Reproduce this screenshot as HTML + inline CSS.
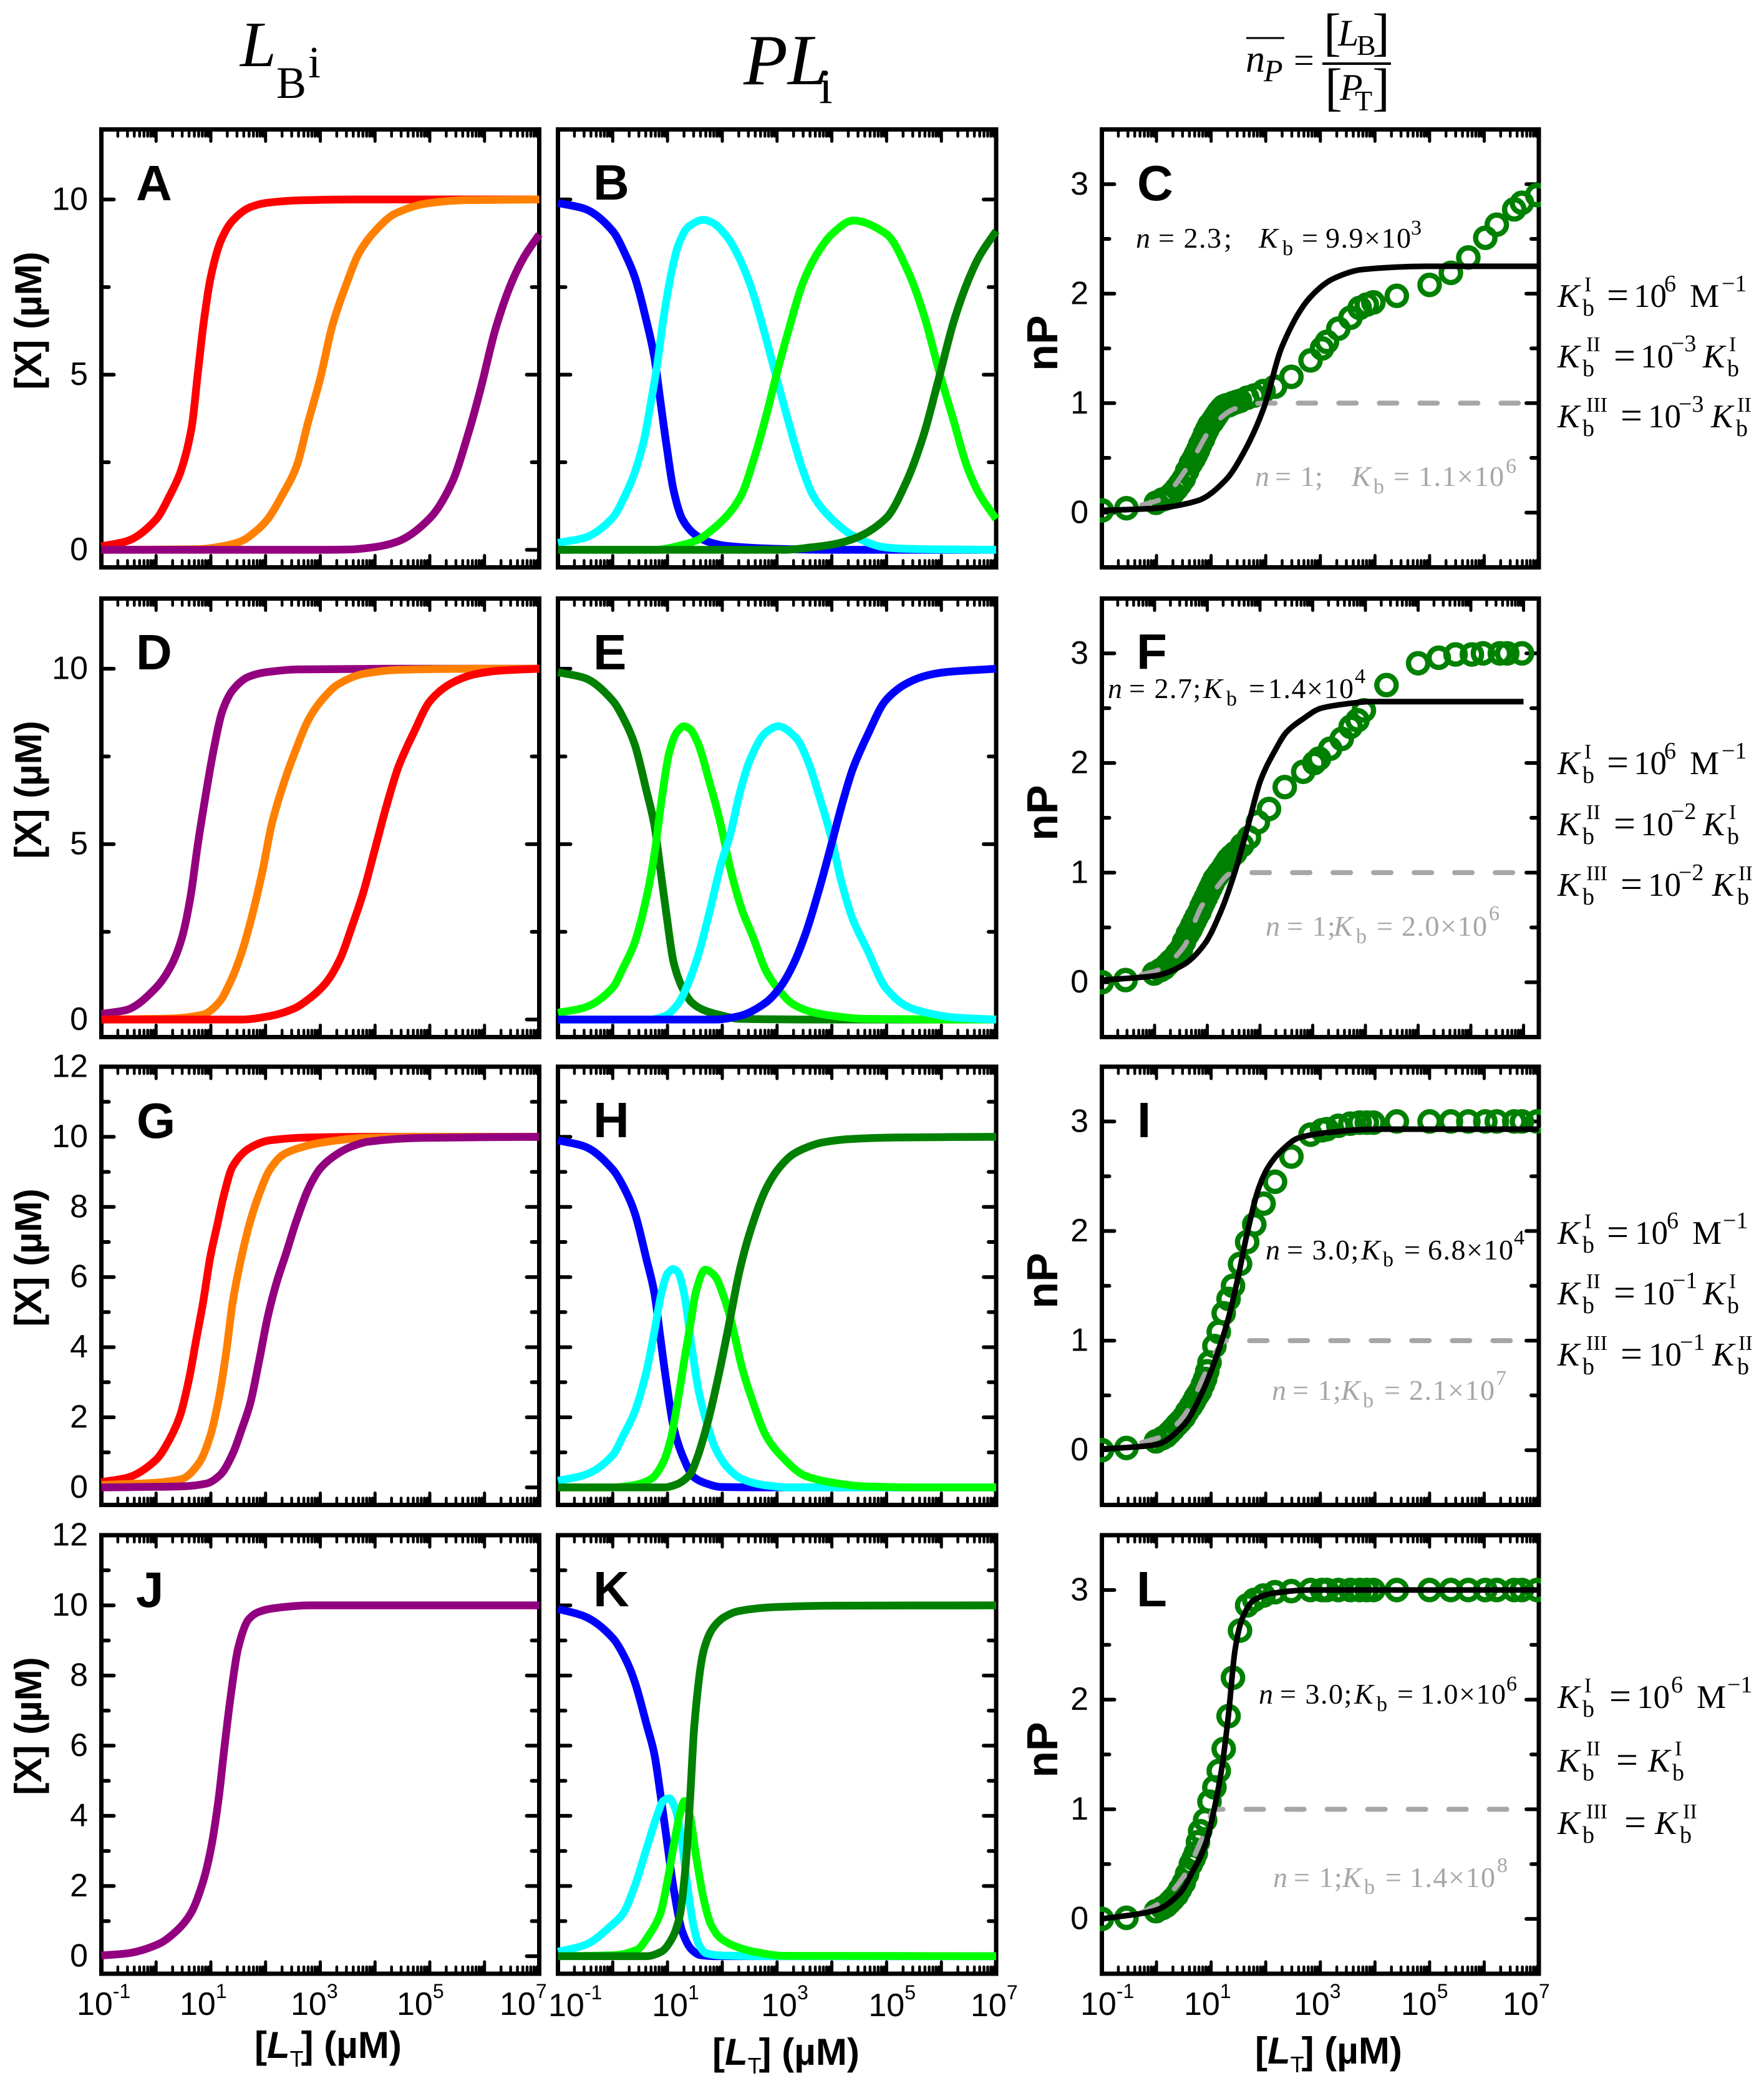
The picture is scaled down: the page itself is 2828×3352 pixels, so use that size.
<!DOCTYPE html>
<html lang="en">
<head>
<meta charset="utf-8">
<title>Binding curves</title>
<style>
html,body{margin:0;padding:0;background:#fff;}
svg{display:block;position:absolute;left:0;top:0;}
text{font-family:"Liberation Sans",sans-serif;fill:#000;}
.tick{font-size:52px;}
.sup{font-size:32px;}
.ytitle{font-size:60px;font-weight:bold;}
.nptitle{font-size:70px;font-weight:bold;}
.xtitle{font-size:60px;font-weight:bold;}
.xtitle .i{font-style:italic;}
.xtitle .s{font-size:36px;font-weight:normal;}
.letter{font-size:80px;font-weight:bold;}
.serif,.serif tspan{font-family:"Liberation Serif",serif;}
.i{font-style:italic;}
.ann{font-size:46px;font-family:"Liberation Serif",serif;letter-spacing:1.5px;}
.ann tspan{font-family:"Liberation Serif",serif;}
.ann .a{font-size:34px;}
.gray,.gray tspan{fill:#a6a6a6;}
.eq{font-size:53px;font-family:"Liberation Serif",serif;}
.eq tspan{font-family:"Liberation Serif",serif;}
.eq .a{font-size:38px;}
.eq .r{font-size:34px;}
.eq .e{font-size:62px;}
</style>
</head>
<body>
<svg id="chart" xmlns="http://www.w3.org/2000/svg" width="2828" height="3352" viewBox="0 0 2828 3352">
<rect x="0" y="0" width="2828" height="3352" fill="#fff"/>
<g id="plots"></g>

<!-- column headers -->
<text class="serif"><tspan x="385" y="106" class="i" font-size="104">L</tspan><tspan x="443" y="157" font-size="72">B</tspan><tspan x="494" y="124" font-size="72">i</tspan></text>
<text class="serif"><tspan x="1192" y="135" class="i" font-size="116">PL</tspan><tspan x="1313" y="165" font-size="78">i</tspan></text>
<g>
<line x1="1998" y1="61" x2="2059" y2="61" stroke="#000" stroke-width="3"/>
<text class="serif"><tspan x="1997" y="115" class="i" font-size="62">n</tspan><tspan x="2026" y="130" class="i" font-size="50">P</tspan><tspan x="2074" y="116" font-size="58">=</tspan></text>
<line x1="2120" y1="102" x2="2230" y2="102" stroke="#000" stroke-width="4"/>
<text class="serif"><tspan x="2122" y="80" font-size="84">[</tspan><tspan x="2145" y="73" class="i" font-size="60">L</tspan><tspan x="2175" y="88" font-size="46">B</tspan><tspan x="2200" y="80" font-size="84">]</tspan></text>
<text class="serif"><tspan x="2124" y="168" font-size="84">[</tspan><tspan x="2148" y="160" class="i" font-size="60">P</tspan><tspan x="2172" y="177" font-size="46">T</tspan><tspan x="2200" y="168" font-size="84">]</tspan></text>
</g>

<!-- y axis titles -->
<text class="ytitle" text-anchor="middle" transform="translate(66,514) rotate(-90)">[X] (µM)</text>
<text class="ytitle" text-anchor="middle" transform="translate(66,1266) rotate(-90)">[X] (µM)</text>
<text class="ytitle" text-anchor="middle" transform="translate(66,2016) rotate(-90)">[X] (µM)</text>
<text class="ytitle" text-anchor="middle" transform="translate(66,2767) rotate(-90)">[X] (µM)</text>
<text class="nptitle" text-anchor="middle" transform="translate(1695,550) rotate(-90)">nP</text>
<text class="nptitle" text-anchor="middle" transform="translate(1695,1303) rotate(-90)">nP</text>
<text class="nptitle" text-anchor="middle" transform="translate(1695,2053) rotate(-90)">nP</text>
<text class="nptitle" text-anchor="middle" transform="translate(1695,2805) rotate(-90)">nP</text>

<!-- x axis titles -->
<text class="xtitle"><tspan x="408" y="3299">[</tspan><tspan class="i">L</tspan><tspan class="s" dy="14">T</tspan><tspan dy="-14" dx="-4">] (µM)</tspan></text>
<text class="xtitle"><tspan x="1142" y="3310">[</tspan><tspan class="i">L</tspan><tspan class="s" dy="14">T</tspan><tspan dy="-14" dx="-4">] (µM)</tspan></text>
<text class="xtitle"><tspan x="2012" y="3308">[</tspan><tspan class="i">L</tspan><tspan class="s" dy="14">T</tspan><tspan dy="-14" dx="-4">] (µM)</tspan></text>

<!-- panel letters -->
<text class="letter" x="218" y="321">A</text>
<text class="letter" x="951" y="320">B</text>
<text class="letter" x="1823" y="321">C</text>
<text class="letter" x="218" y="1073">D</text>
<text class="letter" x="951" y="1073">E</text>
<text class="letter" x="1822" y="1072">F</text>
<text class="letter" x="219" y="1824">G</text>
<text class="letter" x="951" y="1823">H</text>
<text class="letter" x="1823" y="1823">I</text>
<text class="letter" x="218" y="2576">J</text>
<text class="letter" x="951" y="2575">K</text>
<text class="letter" x="1822" y="2575">L</text>

<!-- fit annotations -->
<text class="ann"><tspan x="1821" y="397" class="i">n</tspan><tspan x="1857">= 2.3</tspan><tspan x="1962">;</tspan><tspan x="2018" class="i">K</tspan><tspan x="2056" y="409" class="a">b</tspan><tspan x="2087" y="397">=</tspan><tspan x="2125">9.9×10</tspan><tspan x="2262" y="376" class="a">3</tspan></text>
<text class="ann gray"><tspan x="2012" y="779" class="i">n</tspan><tspan x="2044">= 1</tspan><tspan x="2108">;</tspan><tspan x="2167" class="i">K</tspan><tspan x="2202" y="791" class="a">b</tspan><tspan x="2234" y="779">=</tspan><tspan x="2274">1.1×10</tspan><tspan x="2414" y="758" class="a">6</tspan></text>
<text class="ann"><tspan x="1776" y="1119" class="i">n</tspan><tspan x="1810">= 2.7;</tspan><tspan x="1929" class="i">K</tspan><tspan x="1966" y="1131" class="a">b</tspan><tspan x="2002" y="1119">=</tspan><tspan x="2033">1.4×10</tspan><tspan x="2172" y="1095" class="a">4</tspan></text>
<text class="ann gray"><tspan x="2029" y="1500" class="i">n</tspan><tspan x="2063">= 1;</tspan><tspan x="2138" class="i">K</tspan><tspan x="2174" y="1512" class="a">b</tspan><tspan x="2207" y="1500">=</tspan><tspan x="2247">2.0×10</tspan><tspan x="2387" y="1475" class="a">6</tspan></text>
<text class="ann"><tspan x="2029" y="2019" class="i">n</tspan><tspan x="2063">= 3.0;</tspan><tspan x="2182" class="i">K</tspan><tspan x="2217" y="2030" class="a">b</tspan><tspan x="2251" y="2019">=</tspan><tspan x="2289">6.8×10</tspan><tspan x="2427" y="1995" class="a">4</tspan></text>
<text class="ann gray"><tspan x="2039" y="2244" class="i">n</tspan><tspan x="2072">= 1;</tspan><tspan x="2150" class="i">K</tspan><tspan x="2185" y="2256" class="a">b</tspan><tspan x="2219" y="2244">=</tspan><tspan x="2259">2.1×10</tspan><tspan x="2398" y="2220" class="a">7</tspan></text>
<text class="ann"><tspan x="2018" y="2731" class="i">n</tspan><tspan x="2052">= 3.0;</tspan><tspan x="2171" class="i">K</tspan><tspan x="2207" y="2743" class="a">b</tspan><tspan x="2240" y="2731">=</tspan><tspan x="2277">1.0×10</tspan><tspan x="2415" y="2710" class="a">6</tspan></text>
<text class="ann gray"><tspan x="2041" y="3025" class="i">n</tspan><tspan x="2074">= 1;</tspan><tspan x="2152" class="i">K</tspan><tspan x="2187" y="3036" class="a">b</tspan><tspan x="2221" y="3025">=</tspan><tspan x="2260">1.4×10</tspan><tspan x="2400" y="3001" class="a">8</tspan></text>

<!-- row 1 constants -->
<text class="eq"><tspan x="2497" y="492" class="i">K</tspan><tspan x="2537" y="506" class="a">b</tspan><tspan x="2540" y="467" class="r">I</tspan><tspan x="2576" y="494" class="e">=</tspan><tspan x="2619" y="492">10</tspan><tspan x="2668" y="467" class="a">6</tspan><tspan x="2709" y="492">M</tspan><tspan x="2760" y="467" class="a">−1</tspan></text>
<text class="eq"><tspan x="2497" y="589" class="i">K</tspan><tspan x="2537" y="603" class="a">b</tspan><tspan x="2543" y="563" class="r">II</tspan><tspan x="2587" y="591" class="e">=</tspan><tspan x="2630" y="589">10</tspan><tspan x="2679" y="563" class="a">−3</tspan><tspan x="2730" y="589" class="i">K</tspan><tspan x="2769" y="603" class="a">b</tspan><tspan x="2772" y="563" class="r">I</tspan></text>
<text class="eq"><tspan x="2497" y="685" class="i">K</tspan><tspan x="2537" y="699" class="a">b</tspan><tspan x="2543" y="660" class="r">III</tspan><tspan x="2598" y="687" class="e">=</tspan><tspan x="2642" y="685">10</tspan><tspan x="2691" y="660" class="a">−3</tspan><tspan x="2743" y="685" class="i">K</tspan><tspan x="2783" y="699" class="a">b</tspan><tspan x="2785" y="660" class="r">II</tspan></text>
<!-- row 2 constants -->
<text class="eq"><tspan x="2497" y="1241" class="i">K</tspan><tspan x="2537" y="1255" class="a">b</tspan><tspan x="2540" y="1216" class="r">I</tspan><tspan x="2576" y="1243" class="e">=</tspan><tspan x="2619" y="1241">10</tspan><tspan x="2668" y="1216" class="a">6</tspan><tspan x="2709" y="1241">M</tspan><tspan x="2760" y="1216" class="a">−1</tspan></text>
<text class="eq"><tspan x="2497" y="1339" class="i">K</tspan><tspan x="2537" y="1353" class="a">b</tspan><tspan x="2543" y="1313" class="r">II</tspan><tspan x="2587" y="1341" class="e">=</tspan><tspan x="2630" y="1339">10</tspan><tspan x="2679" y="1313" class="a">−2</tspan><tspan x="2730" y="1339" class="i">K</tspan><tspan x="2769" y="1353" class="a">b</tspan><tspan x="2772" y="1313" class="r">I</tspan></text>
<text class="eq"><tspan x="2497" y="1436" class="i">K</tspan><tspan x="2537" y="1450" class="a">b</tspan><tspan x="2543" y="1411" class="r">III</tspan><tspan x="2598" y="1438" class="e">=</tspan><tspan x="2642" y="1436">10</tspan><tspan x="2691" y="1411" class="a">−2</tspan><tspan x="2745" y="1436" class="i">K</tspan><tspan x="2785" y="1450" class="a">b</tspan><tspan x="2787" y="1411" class="r">II</tspan></text>
<!-- row 3 constants -->
<text class="eq"><tspan x="2497" y="1994" class="i">K</tspan><tspan x="2537" y="2008" class="a">b</tspan><tspan x="2540" y="1969" class="r">I</tspan><tspan x="2576" y="1996" class="e">=</tspan><tspan x="2621" y="1994">10</tspan><tspan x="2672" y="1969" class="a">6</tspan><tspan x="2713" y="1994">M</tspan><tspan x="2762" y="1969" class="a">−1</tspan></text>
<text class="eq"><tspan x="2497" y="2091" class="i">K</tspan><tspan x="2537" y="2105" class="a">b</tspan><tspan x="2543" y="2065" class="r">II</tspan><tspan x="2587" y="2093" class="e">=</tspan><tspan x="2632" y="2091">10</tspan><tspan x="2681" y="2065" class="a">−1</tspan><tspan x="2730" y="2091" class="i">K</tspan><tspan x="2769" y="2105" class="a">b</tspan><tspan x="2772" y="2065" class="r">I</tspan></text>
<text class="eq"><tspan x="2497" y="2189" class="i">K</tspan><tspan x="2537" y="2203" class="a">b</tspan><tspan x="2543" y="2164" class="r">III</tspan><tspan x="2598" y="2191" class="e">=</tspan><tspan x="2643" y="2189">10</tspan><tspan x="2693" y="2164" class="a">−1</tspan><tspan x="2745" y="2189" class="i">K</tspan><tspan x="2785" y="2203" class="a">b</tspan><tspan x="2787" y="2164" class="r">II</tspan></text>
<!-- row 4 constants -->
<text class="eq"><tspan x="2497" y="2738" class="i">K</tspan><tspan x="2537" y="2752" class="a">b</tspan><tspan x="2540" y="2713" class="r">I</tspan><tspan x="2580" y="2740" class="e">=</tspan><tspan x="2624" y="2738">10</tspan><tspan x="2679" y="2713" class="a">6</tspan><tspan x="2720" y="2738">M</tspan><tspan x="2769" y="2713" class="a">−1</tspan></text>
<text class="eq"><tspan x="2497" y="2840" class="i">K</tspan><tspan x="2537" y="2854" class="a">b</tspan><tspan x="2543" y="2814" class="r">II</tspan><tspan x="2591" y="2842" class="e">=</tspan><tspan x="2642" y="2840" class="i">K</tspan><tspan x="2681" y="2854" class="a">b</tspan><tspan x="2685" y="2814" class="r">I</tspan></text>
<text class="eq"><tspan x="2497" y="2940" class="i">K</tspan><tspan x="2537" y="2954" class="a">b</tspan><tspan x="2543" y="2915" class="r">III</tspan><tspan x="2604" y="2942" class="e">=</tspan><tspan x="2653" y="2940" class="i">K</tspan><tspan x="2693" y="2954" class="a">b</tspan><tspan x="2698" y="2915" class="r">II</tspan></text>
</svg>

<script>
// ---------- tick labels ----------
const xTickExponents = ['-1', '1', '3', '5', '7'];
const yTicksSparse = [0, 5, 10];
const yTicksDense = [0, 2, 4, 6, 8, 10, 12];
const yTicksNP = [0, 1, 2, 3];

// ---------- shared x values of the data markers (log10 of [LT]) ----------
const markerLogL = [-1,-.55,-.01,.11,.24,.37,.5,.63,.72,.8,.89,.97,1.06,1.14,1.23,1.32,1.4,1.53,1.66,1.79,1.96,2.17,2.47,2.82,3.03,3.12,3.33,3.55,3.72,3.85,3.97,4.4,5,5.39,5.71,6.02,6.23,6.55,6.69,6.97,.18,.3,.43,.56,.68,.76,.85,.93,1.02,1.1,1.19,1.28,1.36,1.46];

// ---------- panel A ----------
const A_red_logL = [-1,-.53,0,.25,.44,.65,.76,.87,1,1.19,1.4,1.72,2,2.7,3.7,7];
const A_red_X = [.1,.25,.87,1.55,2.2,3.5,5,6.5,7.8,8.85,9.4,9.78,9.9,9.98,10,10];
const A_orange_logL = [-1,.8,1.2,1.53,1.85,2.05,2.3,2.57,2.77,3,3.22,3.48,3.7,4,4.37,5,5.65,7];
const A_orange_X = [0,.02,.1,.23,.57,.9,1.55,2.4,3.6,4.9,6.4,7.6,8.45,9.1,9.6,9.9,9.98,10];
const A_purple_logL = [-1,3,3.53,4,4.4,5,5.4,5.7,5.93,6.2,6.5,6.72,7];
const A_purple_X = [0,0,.01,.08,.23,.9,1.9,3.3,4.6,6.3,7.65,8.35,9];

// ---------- panel B ----------
const B_blue_logL = [-1,-.52,0,.24,.4,.62,.76,.87,.98,1.11,1.27,1.49,1.71,2.09,2.96,4,7];
const B_blue_X = [9.9,9.74,9.1,8.4,7.8,6.5,5.5,4.25,3,1.7,.88,.45,.25,.11,.03,0,0];
const B_cyan_logL = [-1,-.52,0,.24,.4,.57,.7,.81,.92,1.06,1.19,1.38,1.66,1.82,2.09,2.31,2.53,2.8,2.96,3.18,3.45,3.67,4,4.38,4.98,5.36,7];
const B_cyan_X = [.2,.34,.92,1.6,2.2,3.13,4.24,5.26,6.54,7.82,8.67,9.22,9.42,9.34,8.93,8.33,7.48,6.03,5.09,3.82,2.37,1.52,.88,.41,.07,.03,0];
const B_lime_logL = [-1,.78,1.27,1.55,1.82,2.15,2.36,2.55,2.8,2.99,3.18,3.48,3.7,4,4.39,5,5.39,5.68,5.96,6.23,6.47,6.69,7];
const B_lime_X = [0,0,.14,.28,.58,1.09,1.6,2.45,3.82,5,6.1,7.65,8.37,9.01,9.4,9.01,7.95,6.71,5.09,3.65,2.37,1.6,.88];
const B_dark_logL = [-1,3.13,3.62,4,4.39,5,5.36,5.68,5.93,6.23,6.5,6.69,7];
const B_dark_X = [0,0,.07,.15,.31,.92,1.94,3.3,4.75,6.54,7.73,8.37,9.1];

// ---------- panel D ----------
const D_purple_logL = [-1,-.55,0,.28,.47,.63,.76,.89,1.05,1.21,1.4,1.69,2.01,2.59,4.2,7];
const D_purple_X = [.16,.27,.91,1.55,2.32,3.51,4.96,6.24,7.68,8.79,9.39,9.77,9.9,9.98,10,10];
const D_orange_logL = [-1,.28,.86,1.15,1.37,1.56,1.76,1.95,2.11,2.3,2.53,2.81,3.04,3.33,3.81,4.45,6.12,7];
const D_orange_X = [0,.03,.14,.49,1.12,1.89,3,4.28,5.55,6.58,7.6,8.62,9.13,9.56,9.86,9.97,10,10];
const D_red_logL = [-1,1.56,2.08,2.53,2.81,3.1,3.36,3.58,3.78,4,4.22,4.42,4.71,5.01,5.41,5.79,6.24,7];
const D_red_X = [0,0,.1,.32,.61,1.04,1.72,2.66,3.59,4.87,6.15,7.17,8.19,9.09,9.6,9.83,9.94,10];

// ---------- panel E ----------
const E_dark_logL = [-1,-.52,0,.24,.4,.62,.76,.87,.98,1.11,1.27,1.44,1.66,1.98,2.31,4,7];
const E_dark_X = [9.9,9.74,9.09,8.45,7.85,6.49,5.55,4.28,3,1.64,.91,.49,.27,.12,.02,0,0];
const E_lime_logL = [-1,-.52,0,.19,.4,.62,.76,.89,1.03,1.17,1.3,1.41,1.55,1.77,1.96,2.15,2.37,2.55,2.8,3.02,3.29,3.67,4.05,4.6,7];
const E_lime_X = [.19,.34,.91,1.47,2.19,3.51,4.7,6.24,7.6,8.19,8.36,8.28,7.9,6.75,5.64,4.28,3.08,2.4,1.38,.87,.44,.2,.1,.02,0];
const E_cyan_logL = [-1,.68,.95,1.19,1.38,1.57,1.77,1.98,2.15,2.31,2.5,2.8,3.02,3.35,3.57,3.78,4,4.16,4.38,4.65,4.98,5.39,5.74,6.23,7];
const E_cyan_X = [0,0,.1,.44,1.04,1.89,3.08,4.45,5.3,6.4,7.38,8.19,8.36,8.02,7.34,6.32,5.13,4.02,2.87,1.98,.91,.36,.19,.06,0];
const E_blue_logL = [-1,1.87,2.31,2.8,3.07,3.29,3.53,3.78,4,4.22,4.38,4.65,4.98,5.39,5.74,6.06,7];
const E_blue_X = [0,0,.1,.49,.95,1.55,2.49,3.77,5.04,6.32,7.13,8.1,9.09,9.6,9.81,9.9,10];

// ---------- panel G ----------
const G_red_logL = [-1,-.52,0,.25,.44,.6,.73,.86,.99,1.12,1.24,1.4,1.72,2.08,2.78,3.94,7];
const G_red_X = [.15,.28,.79,1.38,2.06,3.08,4.19,5.29,6.57,7.5,8.35,9.16,9.69,9.9,9.98,10,10];
const G_orange_logL = [-1,-.04,.47,.79,.99,1.15,1.28,1.4,1.56,1.72,1.88,2.08,2.33,2.59,3.04,3.81,4.96,7];
const G_orange_X = [.07,.13,.24,.71,1.47,2.57,3.85,5.29,6.57,7.59,8.35,9.07,9.5,9.67,9.84,9.97,10,10];
const G_purple_logL = [-1,.47,.92,1.18,1.4,1.56,1.72,1.88,2.04,2.21,2.37,2.56,2.81,3.01,3.3,3.55,3.87,4.83,7];
const G_purple_X = [0,.03,.11,.37,.96,1.64,2.4,3.59,4.87,5.89,6.65,7.59,8.61,9.12,9.5,9.71,9.86,9.97,10];

// ---------- panel H ----------
const H_blue_logL = [-1,-.52,0,.24,.4,.62,.76,.87,.98,1.11,1.27,1.49,1.71,1.98,2.96,7];
const H_blue_X = [9.9,9.73,9.07,8.44,7.84,6.48,5.55,4.27,3,1.72,.92,.28,.11,.01,0,0];
const H_cyan_logL = [-1,-.52,0,.19,.4,.62,.76,.89,1,1.1,1.19,1.3,1.44,1.57,1.74,1.87,2.09,2.36,2.75,3.24,7];
const H_cyan_X = [.19,.35,.92,1.47,2.15,3.34,4.44,5.55,6.1,6.23,6.14,5.55,4.02,2.74,1.72,1.13,.58,.24,.07,0,0];
const H_lime_logL = [-1,-.03,.4,.7,.92,1.06,1.19,1.33,1.44,1.52,1.69,1.87,2.04,2.17,2.36,2.53,2.8,3.04,3.53,4,4.6,5.68,7];
const H_lime_X = [0,0,.07,.24,.71,1.38,2.49,3.85,4.87,5.59,6.21,6.02,5.38,4.7,3.42,2.57,1.47,.96,.32,.14,.03,0,0];
const H_dark_logL = [-1,.95,1.14,1.41,1.55,1.74,1.93,2.15,2.31,2.5,2.8,3.04,3.29,3.53,3.83,4.38,5.14,7];
const H_dark_X = [0,0,.07,.37,.88,1.89,3.17,4.87,6.14,7.25,8.52,9.12,9.5,9.69,9.84,9.94,9.98,10];

// ---------- panel J ----------
const J_purple_logL = [-1,-.53,.05,.38,.63,.85,1,1.14,1.25,1.36,1.5,1.69,1.87,2.16,2.81,7];
const J_purple_X = [.02,.08,.35,.73,1.21,2.08,3.05,4.46,5.97,7.38,8.79,9.6,9.81,9.92,10,10];

// ---------- panel K ----------
const K_blue_logL = [-1,-.52,0,.24,.4,.62,.76,.87,.98,1.11,1.27,1.44,1.6,1.87,7];
const K_blue_X = [9.9,9.69,9.07,8.45,7.83,6.59,5.76,4.63,3.39,1.94,.7,.19,.03,0,0];
const K_cyan_logL = [-1,-.52,0,.19,.4,.62,.81,.92,1.03,1.14,1.25,1.36,1.47,1.57,1.71,1.98,2.96,7];
const K_cyan_X = [.13,.31,.91,1.22,1.99,3.08,4.01,4.42,4.5,4.21,3.39,2.05,.91,.34,.08,.02,0,0];
const K_lime_logL = [-1,.02,.45,.66,.87,1,1.14,1.22,1.31,1.41,1.52,1.66,1.79,1.98,2.31,2.64,3.13,7];
const K_lime_X = [0,.03,.19,.6,1.22,2.15,3.39,4.01,4.42,4.01,2.87,1.63,.91,.5,.24,.11,.01,0];
const K_dark_logL = [-1,.62,.89,1.08,1.22,1.33,1.41,1.49,1.66,1.82,2.04,2.31,2.96,4.05,7];
const K_dark_X = [0,0,.13,.5,1.12,2.56,4.42,6.59,8.71,9.33,9.67,9.84,9.95,9.99,10];

// ---------- panel C ----------
const C_marker_nP = [.02,.04,.09,.12,.15,.22,.31,.45,.53,.62,.72,.8,.86,.92,.97,.98,1,1.02,1.05,1.07,1.11,1.15,1.24,1.39,1.5,1.56,1.68,1.78,1.87,1.9,1.92,1.98,2.08,2.19,2.33,2.51,2.63,2.77,2.83,2.9,.13,.18,.26,.38,.49,.57,.67,.76,.83,.89,.95,.98,.99,1.01];
const C_grey_logL = [-.27,.07,.59,1.06,1.44,1.96,7];
const C_grey_nP = [.07,.12,.43,.81,.95,1,1];
const C_black_logL = [-1,-.01,.76,1.27,1.62,1.96,2.3,2.82,3.25,3.76,4.96,7];
const C_black_nP = [.02,.04,.11,.3,.57,.95,1.52,1.97,2.14,2.22,2.25,2.25];

// ---------- panel F ----------
const F_marker_nP = [0,.02,.08,.11,.16,.22,.3,.44,.52,.6,.69,.77,.86,.94,1,1.06,1.12,1.18,1.25,1.32,1.46,1.58,1.78,1.92,2,2.04,2.13,2.22,2.33,2.39,2.48,2.71,2.91,2.96,2.99,2.99,3,3,3,3,.13,.19,.26,.37,.48,.56,.64,.73,.82,.9,.97,1.03,1.09,1.15];
const F_grey_logL = [-.25,.06,.55,.9,1.17,1.44,1.7,7.02];
const F_grey_nP = [.07,.11,.32,.7,.86,.99,1,1];
const F_black_logL = [-1,.02,.55,.95,1.26,1.52,1.79,2.01,2.28,2.5,2.81,3.16,3.65,4.09,7];
const F_black_nP = [.02,.06,.16,.35,.65,1,1.46,1.84,2.11,2.28,2.4,2.5,2.54,2.56,2.56];

// ---------- panel I ----------
const I_marker_nP = [0,.02,.08,.11,.16,.23,.3,.4,.48,.54,.65,.8,.95,1.08,1.25,1.38,1.5,1.7,1.9,2.06,2.25,2.45,2.68,2.88,2.92,2.93,2.96,2.98,2.99,2.99,2.99,3,3,3,3,3,3,3,3,3,.13,.19,.26,.35,.44,.51,.6,.72];
const I_grey_logL = [-.27,.07,.5,.89,1.1,1.27,6.76];
const I_grey_nP = [.07,.12,.31,.7,.91,1,1];
const I_black_logL = [-1,-.01,.5,.84,1.1,1.32,1.49,1.66,1.87,2.04,2.3,2.6,3.16,4.02,7];
const I_black_nP = [.01,.05,.23,.53,.86,1.21,1.57,1.98,2.39,2.58,2.74,2.85,2.9,2.93,2.93];

// ---------- panel L ----------
const L_marker_nP = [0,.01,.07,.1,.15,.22,.33,.5,.6,.8,.9,1.07,1.2,1.35,1.55,1.85,2.2,2.63,2.86,2.91,2.95,2.98,2.99,3,3,3,3,3,3,3,3,3,3,3,3,3,3,3,3,3,.12,.18,.27,.41,.55,.7];
const L_grey_logL = [-.27,.07,.5,.89,1.06,6.68];
const L_grey_nP = [.06,.15,.39,.8,1,1];
const L_black_logL = [-1,-.01,.42,.67,.89,1.06,1.19,1.32,1.44,1.57,1.79,2.13,2.82,7];
const L_black_nP = [0,.08,.23,.44,.67,1.01,1.36,1.87,2.46,2.74,2.91,2.97,3,3];

// ---------- layout (not data) ----------
const NS = 'http://www.w3.org/2000/svg';
const colLeft = [162.5, 894.5, 1766.5];
const colRight = [864.5, 1597, 2467];
const rowTop = [207.5, 959.5, 1710, 2461];
const rowBottom = [909.5, 1662.5, 2412.5, 3164];
const seriesColor = {red:'#ff0000', orange:'#ff8000', purple:'#93007f', blue:'#0000ff', cyan:'#00ffff', lime:'#00ff00', dark:'#008000'};

const xPanels = [
  {id:'a', col:0, row:0, ticks:yTicksSparse, series:[['red',A_red_logL,A_red_X],['orange',A_orange_logL,A_orange_X],['purple',A_purple_logL,A_purple_X]]},
  {id:'b', col:1, row:0, ticks:yTicksSparse, series:[['blue',B_blue_logL,B_blue_X],['cyan',B_cyan_logL,B_cyan_X],['lime',B_lime_logL,B_lime_X],['dark',B_dark_logL,B_dark_X]]},
  {id:'d', col:0, row:1, ticks:yTicksSparse, series:[['purple',D_purple_logL,D_purple_X],['orange',D_orange_logL,D_orange_X],['red',D_red_logL,D_red_X]]},
  {id:'e', col:1, row:1, ticks:yTicksSparse, series:[['dark',E_dark_logL,E_dark_X],['lime',E_lime_logL,E_lime_X],['cyan',E_cyan_logL,E_cyan_X],['blue',E_blue_logL,E_blue_X]]},
  {id:'g', col:0, row:2, ticks:yTicksDense, series:[['red',G_red_logL,G_red_X],['orange',G_orange_logL,G_orange_X],['purple',G_purple_logL,G_purple_X]]},
  {id:'h', col:1, row:2, ticks:yTicksDense, series:[['blue',H_blue_logL,H_blue_X],['cyan',H_cyan_logL,H_cyan_X],['lime',H_lime_logL,H_lime_X],['dark',H_dark_logL,H_dark_X]]},
  {id:'j', col:0, row:3, ticks:yTicksDense, series:[['purple',J_purple_logL,J_purple_X]]},
  {id:'k', col:1, row:3, ticks:yTicksDense, series:[['blue',K_blue_logL,K_blue_X],['cyan',K_cyan_logL,K_cyan_X],['lime',K_lime_logL,K_lime_X],['dark',K_dark_logL,K_dark_X]]}
];
const npPanels = [
  {id:'c', col:2, row:0, xMax:7, markers:C_marker_nP, grey:[C_grey_logL,C_grey_nP], black:[C_black_logL,C_black_nP]},
  {id:'f', col:2, row:1, xMax:7.29, markers:F_marker_nP, grey:[F_grey_logL,F_grey_nP], black:[F_black_logL,F_black_nP]},
  {id:'i', col:2, row:2, xMax:7, markers:I_marker_nP, grey:[I_grey_logL,I_grey_nP], black:[I_black_logL,I_black_nP]},
  {id:'l', col:2, row:3, xMax:7, markers:L_marker_nP, grey:[L_grey_logL,L_grey_nP], black:[L_black_logL,L_black_nP]}
];

const plots = document.getElementById('plots');

function xAxis(col, xMax) {
  return function (logL) {
    return colLeft[col] + (logL + 1) / (xMax + 1) * (colRight[col] - colLeft[col]);
  };
}
function yAxis(row, vMin, vMax) {
  return function (v) {
    return rowBottom[row] - (v - vMin) / (vMax - vMin) * (rowBottom[row] - rowTop[row]);
  };
}
// Monotone cubic path through the mapped data values
function linePath(xs, ys, sx, sy) {
  const px = xs.map(sx), py = ys.map(sy), n = px.length;
  const sec = [], tan = [];
  for (let i = 0; i < n - 1; i++) sec.push((py[i + 1] - py[i]) / (px[i + 1] - px[i]));
  tan.push(sec[0]);
  for (let i = 1; i < n - 1; i++) {
    if (sec[i - 1] * sec[i] <= 0) { tan.push(0); continue; }
    const h0 = px[i] - px[i - 1], h1 = px[i + 1] - px[i];
    const w1 = 2 * h1 + h0, w2 = h1 + 2 * h0;
    tan.push((w1 + w2) / (w1 / sec[i - 1] + w2 / sec[i]));
  }
  tan.push(sec[n - 2]);
  let d = 'M' + px[0].toFixed(1) + ' ' + py[0].toFixed(1);
  for (let i = 0; i < n - 1; i++) {
    const h = (px[i + 1] - px[i]) / 3;
    d += 'C' + (px[i] + h).toFixed(1) + ' ' + (py[i] + tan[i] * h).toFixed(1) + ' ' +
         (px[i + 1] - h).toFixed(1) + ' ' + (py[i + 1] - tan[i + 1] * h).toFixed(1) + ' ' +
         px[i + 1].toFixed(1) + ' ' + py[i + 1].toFixed(1);
  }
  return d;
}

function drawFrameAndTicks(g, p, sx, sy, majors, minors) {
  const L = colLeft[p.col], R = colRight[p.col], T = rowTop[p.row], B = rowBottom[p.row];
  const frame = document.createElementNS(NS, 'rect');
  
  
  frame.setAttribute('x', L);
  frame.setAttribute('y', T);
  frame.setAttribute('width', R - L);
  frame.setAttribute('height', B - T);
  frame.setAttribute('fill', 'none');
  frame.setAttribute('stroke', '#000');
  frame.setAttribute('stroke-width', '7');
  g.appendChild(frame);

  // x ticks, log-spaced
  let dMaj = '', dMin = '';
  for (let dec = -1; dec <= 7; dec++) {
    const X = sx(dec);
    if (dec > -1 && dec < 8) dMaj += 'M' + X + ' ' + T + 'V' + (T + 19) + 'M' + X + ' ' + B + 'V' + (B - 19);
    if (dec < 7 || p.xMax > 7) {
      for (let m = 2; m <= 9; m++) {
        const lx = dec + Math.log10(m);
        if (lx > (p.xMax === undefined ? 7 : p.xMax)) continue;
        const mx = sx(lx);
        dMin += 'M' + mx.toFixed(1) + ' ' + T + 'V' + (T + 11) + 'M' + mx.toFixed(1) + ' ' + B + 'V' + (B - 11);
      }
    }
  }
  const xt = document.createElementNS(NS, 'path');
  
  
  xt.setAttribute('d', dMaj);
  xt.setAttribute('stroke', '#000');
  xt.setAttribute('stroke-width', '5');
  xt.setAttribute('stroke-linecap', 'round');
  g.appendChild(xt);
  const xm = document.createElementNS(NS, 'path');
  
  
  xm.setAttribute('d', dMin);
  xm.setAttribute('stroke', '#000');
  xm.setAttribute('stroke-width', '4.5');
  xm.setAttribute('stroke-linecap', 'round');
  g.appendChild(xm);

  // y ticks both sides
  let yMaj = '', yMin = '';
  majors.forEach(function (v) {
    const Y = sy(v).toFixed(1);
    yMaj += 'M' + L + ' ' + Y + 'H' + (L + 20) + 'M' + R + ' ' + Y + 'H' + (R - 20);
  });
  minors.forEach(function (v) {
    const Y = sy(v).toFixed(1);
    yMin += 'M' + L + ' ' + Y + 'H' + (L + 12) + 'M' + R + ' ' + Y + 'H' + (R - 12);
  });
  const yt = document.createElementNS(NS, 'path');
  
  
  yt.setAttribute('d', yMaj + yMin);
  yt.setAttribute('stroke', '#000');
  yt.setAttribute('stroke-width', '6');
  yt.setAttribute('stroke-linecap', 'round');
  g.appendChild(yt);
}

function drawYLabels(g, p, sy, values, rightEdge) {
  values.forEach(function (v) {
    const t = document.createElementNS(NS, 'text');
    
    
    t.setAttribute('class', 'tick');
    t.setAttribute('text-anchor', 'end');
    t.setAttribute('x', rightEdge);
    t.setAttribute('y', sy(v) + 16.5);
    t.textContent = String(v);
    g.appendChild(t);
  });
}

function drawXLabels(g, p, sx, nudges) {
  xTickExponents.forEach(function (e, i) {
    const t = document.createElementNS(NS, 'text');
    
    
    t.setAttribute('class', 'tick');
    t.setAttribute('x', sx(Number(e)) + nudges[i] - 4);
    t.setAttribute('y', p.col === 1 ? 3232 : 3230);
    t.textContent = '10';
    const s = document.createElementNS(NS, 'tspan');
    s.setAttribute('class', 'sup');
    s.setAttribute('dy', '-27');
    s.textContent = e;
    t.appendChild(s);
    g.appendChild(t);
  });
}

const xLabelNudge = [[-35.5,-46,-43.5,-49,-59.5],[-11.5,-21,-21.6,-25,-37],[-30.5,-39.6,-38.8,-42,-54]];

xPanels.forEach(function (p) {
  const g = document.createElementNS(NS, 'g');
  
  
  plots.appendChild(g);
  const sx = xAxis(p.col, 7);
  const sy = yAxis(p.row, -0.5, 12);
  const minors = p.ticks === yTicksDense ? [1,3,5,7,9,11] : [2.5,7.5];
  drawFrameAndTicks(g, p, sx, sy, p.ticks, minors);
  if (p.col === 0) drawYLabels(g, p, sy, p.ticks, 141);
  if (p.row === 3) drawXLabels(g, p, sx, xLabelNudge[p.col]);
  p.series.forEach(function (s) {
    const c = document.createElementNS(NS, 'path');
    
    
    c.setAttribute('d', linePath(s[1], s[2], sx, sy));
    c.setAttribute('fill', 'none');
    c.setAttribute('stroke', seriesColor[s[0]]);
    c.setAttribute('stroke-width', '12.5');
    c.setAttribute('stroke-linejoin', 'round');
    g.appendChild(c);
  });
});

npPanels.forEach(function (p) {
  const g = document.createElementNS(NS, 'g');
  
  
  plots.appendChild(g);
  const sx = xAxis(p.col, p.xMax);
  const sy = yAxis(p.row, -0.5, 3.5);
  drawFrameAndTicks(g, p, sx, sy, yTicksNP, [.5,1.5,2.5]);
  drawYLabels(g, p, sy, yTicksNP, 1745);
  if (p.row === 3) drawXLabels(g, p, sx, xLabelNudge[p.col]);

  const clip = document.createElementNS(NS, 'clipPath');
  clip.setAttribute('id', 'clip-' + p.id);
  const cr = document.createElementNS(NS, 'rect');
  cr.setAttribute('x', colLeft[p.col] - 3.5);
  cr.setAttribute('y', rowTop[p.row] - 3.5);
  cr.setAttribute('width', colRight[p.col] - colLeft[p.col] + 7);
  cr.setAttribute('height', rowBottom[p.row] - rowTop[p.row] + 7);
  clip.appendChild(cr);
  g.appendChild(clip);

  const mg = document.createElementNS(NS, 'g');
  
  
  mg.setAttribute('clip-path', 'url(#clip-' + p.id + ')');
  g.appendChild(mg);
  p.markers.forEach(function (v, i) {
    const m = document.createElementNS(NS, 'circle');
    
    
    m.setAttribute('cx', sx(markerLogL[i]).toFixed(1));
    m.setAttribute('cy', sy(v).toFixed(1));
    m.setAttribute('r', '15.5');
    m.setAttribute('fill', 'none');
    m.setAttribute('stroke', '#008000');
    m.setAttribute('stroke-width', '8.5');
    mg.appendChild(m);
  });

  const gr = document.createElementNS(NS, 'path');
  
  
  gr.setAttribute('d', linePath(p.grey[0], p.grey[1], sx, sy));
  gr.setAttribute('fill', 'none');
  gr.setAttribute('stroke', '#a6a6a6');
  gr.setAttribute('stroke-width', '8');
  gr.setAttribute('stroke-linecap', 'round');
  gr.setAttribute('stroke-dasharray', '28 37');
  g.appendChild(gr);

  const bl = document.createElementNS(NS, 'path');
  
  
  bl.setAttribute('d', linePath(p.black[0], p.black[1], sx, sy));
  bl.setAttribute('fill', 'none');
  bl.setAttribute('stroke', '#000');
  bl.setAttribute('stroke-width', '9');
  bl.setAttribute('stroke-linejoin', 'round');
  g.appendChild(bl);
});
</script>
</body>
</html>
